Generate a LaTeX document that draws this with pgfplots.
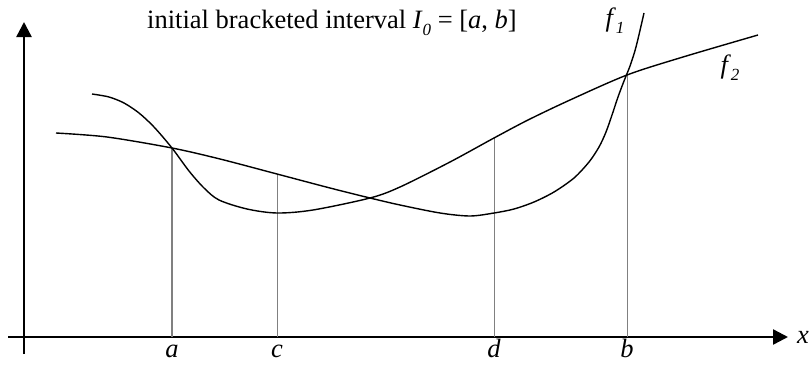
\documentclass[border=0pt]{standalone}
\usepackage{fontspec}
\setmainfont{Liberation Serif}
\usepackage{pgfplots}
\pgfplotsset{compat=1.18}
\usetikzlibrary{arrows.meta}

% curve samples (x, y)
\pgfplotstableread{
x   y
32  204
83  200
148 189
196 178
253 163
306 149
346 139
376 132
416 124
446 121
470 124
490 128
510 135
530 145
550 159
565 175
575 190
582 205
588 222
594 240
600 256
606 271
612 290
620 324
}\fone
\pgfplotstableread{
x   y
68  243
85  240
100 234
115 224
130 210
148 189
165 166
180 149
195 137
223 128
253 124
289 127
346 139
376 150
426 175
470 199
504 217
546 237
603 262
659 280
734 302
}\ftwo

\newcommand{\lbl}[1]{\fontsize{26.5bp}{30bp}\selectfont #1}
\newcommand{\sub}[1]{\raisebox{-0.3em}{\fontsize{17bp}{17bp}\selectfont\itshape #1}}

\begin{document}
\begin{tikzpicture}
\begin{axis}[
  x=1bp, y=1bp,
  axis lines=middle,
  xmin=-16, xmax=764, ymin=-17, ymax=315,
  xtick=\empty, ytick=\empty,
  clip=false,
  axis line style={line width=2.4bp, -{Triangle[length=15bp,width=15bp]}},
]
  % bracket abscissae
  \addplot[gray, line width=1.6bp] coordinates {(148,0) (148,189)};
  \addplot[gray, line width=1bp] coordinates {(253,0) (253,163)};
  \addplot[gray, line width=1bp] coordinates {(470,0) (470,199)};
  \addplot[gray, line width=1bp] coordinates {(603,0) (603,262)};

  \addplot[black, line width=1.4bp, smooth] table {\fone};
  \addplot[black, line width=1.4bp, smooth] table {\ftwo};

  \node[anchor=base] at (axis cs:308,309) {\lbl{initial bracketed interval \textit{I}\sub{0} = [\textit{a}, \textit{b}]}};
  \node[anchor=base] at (axis cs:591,311) {\lbl{\textit{f}\sub{1}}};
  \node[anchor=base] at (axis cs:706,264) {\lbl{\textit{f}\sub{2}}};
  \node[anchor=base west, inner sep=0pt] at (axis cs:773,-6) {\lbl{\textit{x}}};

  \begin{scope}[every node/.style={anchor=base, inner sep=0pt}]
    \node at (axis cs:148,-20) {\lbl{\textit{a}}};
    \node at (axis cs:253,-20) {\lbl{\textit{c}}};
    \node at (axis cs:470,-20) {\lbl{\textit{d}}};
    \node at (axis cs:603,-20) {\lbl{\textit{b}}};
  \end{scope}

  \coordinate (bbSW) at (axis cs:-24,-27);
  \coordinate (bbNE) at (axis cs:785,337);
\end{axis}
\pgfresetboundingbox
\path[use as bounding box] (bbSW) rectangle (bbNE);
\end{tikzpicture}
\end{document}
